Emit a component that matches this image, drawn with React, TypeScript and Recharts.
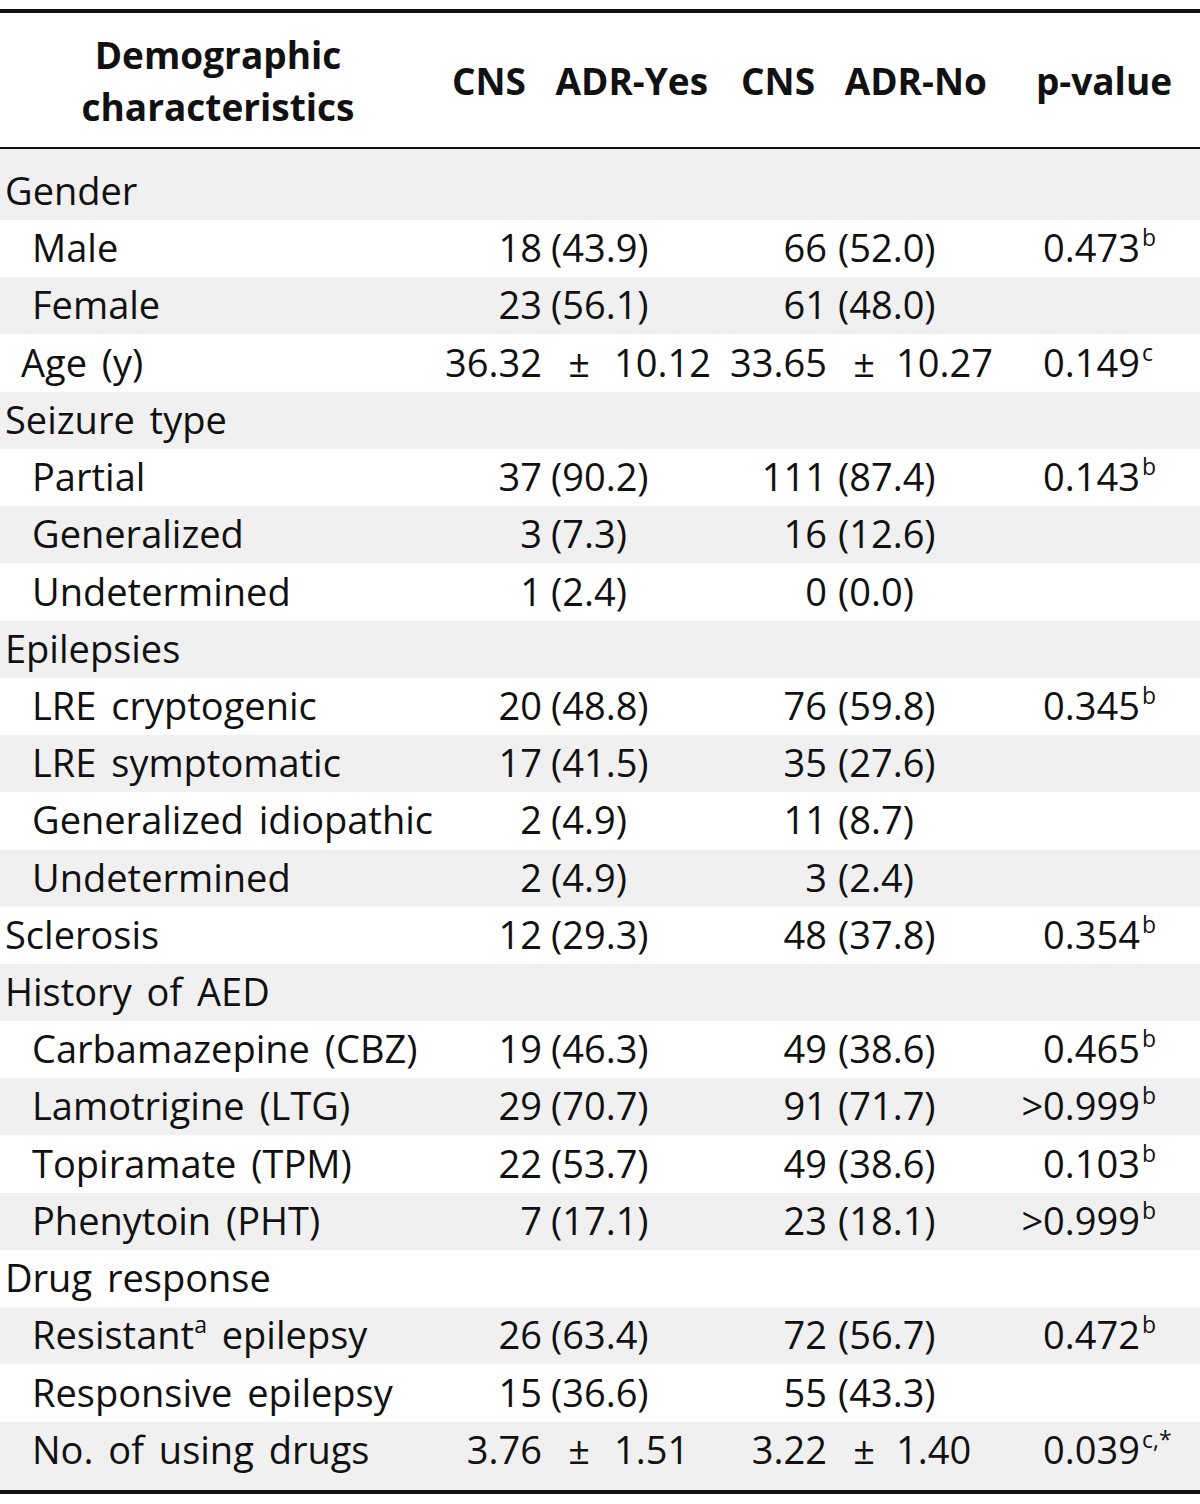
import { BarChart, Bar, XAxis, YAxis, LabelList, Customized } from 'recharts';

const FONT = "'Open Sans', 'Noto Sans', sans-serif";
const INK = '#111';
const STRIPE = '#F0F0F0';
const FS = 38;
const HFS = 37;
const SUP = 23;

// table content
const headers = [['Demographic', 'characteristics'], ['CNS  ADR-Yes'], ['CNS  ADR-No'], ['p-value']];

const labels = [
  'Gender', 'Male', 'Female', 'Age (y)',
  'Seizure type', 'Partial', 'Generalized', 'Undetermined',
  'Epilepsies', 'LRE cryptogenic', 'LRE symptomatic', 'Generalized idiopathic', 'Undetermined',
  'Sclerosis',
  'History of AED', 'Carbamazepine (CBZ)', 'Lamotrigine (LTG)', 'Topiramate (TPM)', 'Phenytoin (PHT)',
  'Drug response', 'Resistant{a} epilepsy', 'Responsive epilepsy', 'No. of using drugs',
];
const kinds = [
  'section', 'item', 'item', 'stat',
  'section', 'item', 'item', 'item',
  'section', 'item', 'item', 'item', 'item',
  'section',
  'section', 'item', 'item', 'item', 'item',
  'section', 'item', 'item', 'item',
];
// 'n' = count (percent), 'm' = mean ± sd
const valueType = ['', 'n', 'n', 'm', '', 'n', 'n', 'n', '', 'n', 'n', 'n', 'n', 'n', '', 'n', 'n', 'n', 'n', '', 'n', 'n', 'm'];

const yesMain = [null, 18, 23, 36.32, null, 37, 3, 1, null, 20, 17, 2, 2, 12, null, 19, 29, 22, 7, null, 26, 15, 3.76];
const yesSub  = [null, 43.9, 56.1, 10.12, null, 90.2, 7.3, 2.4, null, 48.8, 41.5, 4.9, 4.9, 29.3, null, 46.3, 70.7, 53.7, 17.1, null, 63.4, 36.6, 1.51];
const noMain  = [null, 66, 61, 33.65, null, 111, 16, 0, null, 76, 35, 11, 3, 48, null, 49, 91, 49, 23, null, 72, 55, 3.22];
const noSub   = [null, 52.0, 48.0, 10.27, null, 87.4, 12.6, 0.0, null, 59.8, 27.6, 8.7, 2.4, 37.8, null, 38.6, 71.7, 38.6, 18.1, null, 56.7, 43.3, 1.40];
const pValues = ['', '0.473', '', '0.149', '', '0.143', '', '', '', '0.345', '', '', '', '0.354', '', '0.465', '>0.999', '0.103', '>0.999', '', '0.472', '', '0.039'];
const pNotes  = ['', 'b', '', 'c', '', 'b', '', '', '', 'b', '', '', '', 'b', '', 'b', 'b', 'b', 'b', '', 'b', '', 'c,*'];

const rows = labels.map((label, i) => ({
  id: i,
  label,
  kind: kinds[i],
  type: valueType[i],
  yesMain: yesMain[i],
  yesSub: yesSub[i],
  noMain: noMain[i],
  noSub: noSub[i],
  p: pValues[i],
  note: pNotes[i],
  span: 1,
}));

// layout
const W = 1200;
const H = 1504;
const BODY_TOP = 163;
const BODY_BOTTOM = 1479;
const RULE_HEAD = 148;
const RULE_END = 1490;
const LABEL_X = { section: 5, stat: 21, item: 32 };
const COLS = {
  yes: { main: 542, sub: 551, pm: 579, sd: 614 },
  no: { main: 827, sub: 838, pm: 864, sd: 896 },
  p: 1140,
};
const HEAD_X = [218, 580, 864, 1104];

const baseText = { fontFamily: FONT, fontSize: FS, fill: INK, wordSpacing: 5, whiteSpace: 'pre' as const };

function rich(s: string) {
  const m = s.match(/^(.*)\{(.+)\}(.*)$/);
  if (!m) return s;
  return [
    <tspan key="a">{m[1]}</tspan>,
    <tspan key="b" dy={-16} fontSize={SUP}>{m[2]}</tspan>,
    <tspan key="c" dy={16} fontSize={FS}>{m[3]}</tspan>,
  ];
}

function RowShape(props: any) {
  const { y, height, payload } = props;
  const i = payload.id;
  const top = i === 0 ? RULE_HEAD + 1 : y;
  const bottom = i === rows.length - 1 ? RULE_END : y + height;
  return <rect x={0} y={top} width={W} height={bottom - top} fill={i % 2 === 0 ? STRIPE : '#fff'} />;
}

const baseline = (p: any) => p.y + p.height / 2 + 13.5;

function labelCell(p: any) {
  const r = rows[p.index];
  return (
    <text x={LABEL_X[r.kind as keyof typeof LABEL_X]} y={baseline(p)} {...baseText}>
      {rich(r.label)}
    </text>
  );
}

function groupCell(side: 'yes' | 'no') {
  return (p: any) => {
    const r: any = rows[p.index];
    const main = r[side + 'Main'];
    const sub = r[side + 'Sub'];
    if (main == null) return null;
    const c = COLS[side];
    const by = baseline(p);
    if (r.type === 'm') {
      return (
        <g>
          <text x={c.main} y={by} textAnchor="end" {...baseText}>{main.toFixed(2)}</text>
          <text x={c.pm} y={by} textAnchor="middle" {...baseText}>±</text>
          <text x={c.sd} y={by} {...baseText}>{sub.toFixed(2)}</text>
        </g>
      );
    }
    return (
      <g>
        <text x={c.main} y={by} textAnchor="end" {...baseText}>{String(main)}</text>
        <text x={c.sub} y={by} {...baseText}>{`(${sub.toFixed(1)})`}</text>
      </g>
    );
  };
}

function pCell(p: any) {
  const r = rows[p.index];
  if (!r.p) return null;
  const by = baseline(p);
  return (
    <g>
      <text x={COLS.p} y={by} textAnchor="end" {...baseText}>{r.p}</text>
      <text x={COLS.p + 2} y={by - 16} {...baseText} fontSize={SUP}>{r.note}</text>
    </g>
  );
}

function Frame() {
  return (
    <g>
      <line x1={0} x2={W} y1={11} y2={11} stroke={INK} strokeWidth={4} />
      <line x1={0} x2={W} y1={RULE_HEAD} y2={RULE_HEAD} stroke={INK} strokeWidth={2} />
      <line x1={0} x2={W} y1={RULE_END + 2} y2={RULE_END + 2} stroke={INK} strokeWidth={4} />
      {headers.map((lines, i) => (
        <text key={i} x={HEAD_X[i]} textAnchor="middle" {...baseText} fontSize={HFS} fontWeight={700} wordSpacing={20}>
          {lines.length === 2 ? (
            <>
              <tspan x={HEAD_X[i]} y={69}>{lines[0]}</tspan>
              <tspan x={HEAD_X[i]} y={121}>{lines[1]}</tspan>
            </>
          ) : (
            <tspan x={HEAD_X[i]} y={95}>{lines[0]}</tspan>
          )}
        </text>
      ))}
    </g>
  );
}

export default function App() {
  return (
    <div style={{ position: 'absolute', left: 0, top: 0, width: W, height: H, background: '#fff' }}>
      <BarChart
        width={W}
        height={H}
        data={rows}
        layout="vertical"
        barCategoryGap={0}
        margin={{ top: BODY_TOP, right: 0, bottom: H - BODY_BOTTOM, left: 0 }}
      >
        <XAxis type="number" domain={[0, 1]} hide />
        <YAxis type="category" dataKey="id" hide />
        <Bar dataKey="span" shape={<RowShape />} isAnimationActive={false}>
          <LabelList dataKey="label" content={labelCell} />
          <LabelList dataKey="yesMain" content={groupCell('yes')} />
          <LabelList dataKey="noMain" content={groupCell('no')} />
          <LabelList dataKey="p" content={pCell} />
        </Bar>
        <Customized component={<Frame />} />
      </BarChart>
    </div>
  );
}
